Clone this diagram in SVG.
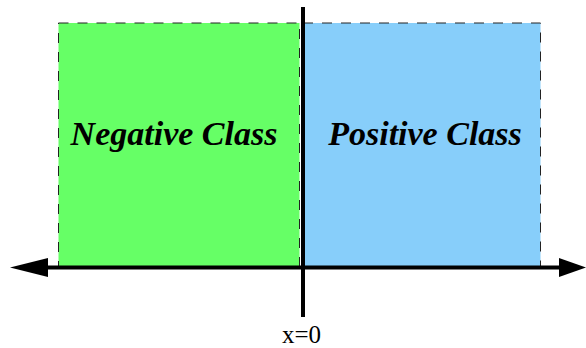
<svg xmlns="http://www.w3.org/2000/svg" width="586" height="348" viewBox="0 0 586 348">
<style>
.region{stroke:#222;stroke-width:1;stroke-dasharray:10,9}
.label{font-family:"Liberation Serif","Times New Roman",serif;font-weight:bold;font-style:italic;font-size:34px;text-anchor:middle;fill:#000}
.axis{stroke:#000;stroke-width:4;fill:none}
.tick{font-family:"Liberation Serif","Times New Roman",serif;font-size:25px;text-anchor:middle;fill:#000}
</style>
<g id="negative">
<rect class="region" x="58.5" y="23" width="241" height="244" fill="#66ff66"/>
<text class="label" x="174" y="145">Negative Class</text>
</g>
<g id="positive">
<rect class="region" x="303" y="23" width="237.5" height="244" fill="#87cefa"/>
<text class="label" x="425" y="145">Positive Class</text>
</g>
<g id="connectors">
<line class="axis" x1="46" y1="267.5" x2="561" y2="267.5"/>
<polygon points="10,267.5 48,258 48,277" fill="#000"/>
<polygon points="586,267.5 559,258 559,277" fill="#000"/>
<line class="axis" x1="303" y1="7" x2="303" y2="317"/>
</g>
<text class="tick" x="301.5" y="343">x=0</text>
</svg>
